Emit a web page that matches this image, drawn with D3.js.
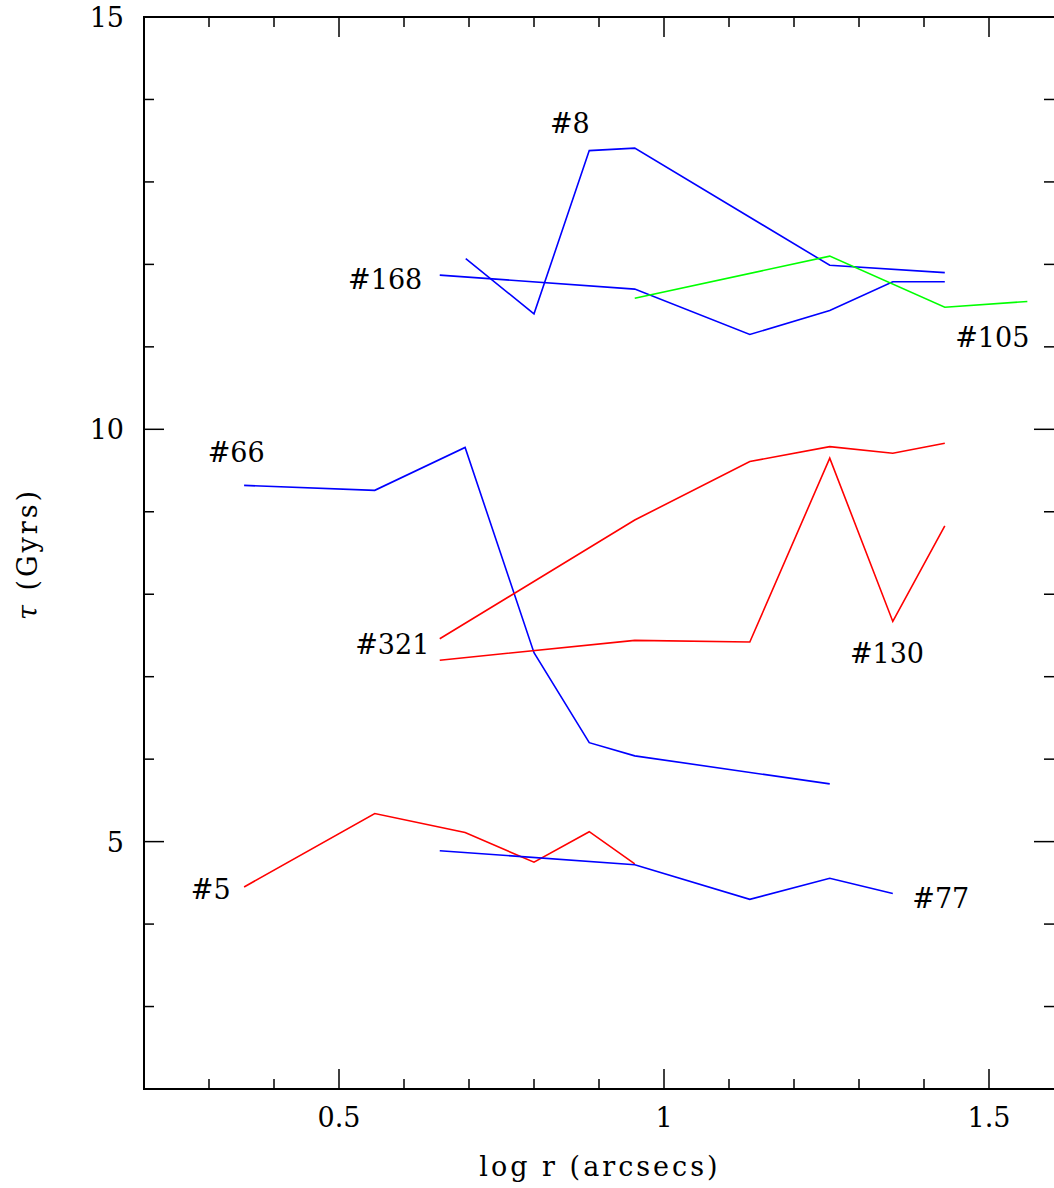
<!DOCTYPE html>
<html><head><meta charset="utf-8">
<script src="https://cdn.jsdelivr.net/npm/d3@7"></script>
<style>
html,body{margin:0;padding:0;background:#fff;}
svg text{font-family:"DejaVu Serif",serif;fill:#000;}
</style></head>
<body>
<svg id="c" width="1054" height="1188"></svg>
<script>
// ---- data ----
const r8    = [0.695, 0.80, 0.885, 0.955, 1.255, 1.432];
const tau8  = [12.07, 11.40, 13.38, 13.41, 11.99, 11.90];
const r168  = [0.655, 0.955, 1.132, 1.255, 1.352, 1.432];
const tau168= [11.87, 11.70, 11.15, 11.44, 11.79, 11.79];
const r105  = [0.955, 1.255, 1.432, 1.559];
const tau105= [11.59, 12.10, 11.48, 11.55];
const r66   = [0.354, 0.555, 0.694, 0.80, 0.885, 0.955, 1.255];
const tau66 = [9.32, 9.26, 9.78, 7.29, 6.20, 6.04, 5.70];
const r321  = [0.655, 0.955, 1.132, 1.255, 1.352, 1.432];
const tau321= [7.46, 8.90, 9.61, 9.79, 9.71, 9.83];
const r130  = [0.655, 0.955, 1.132, 1.255, 1.352, 1.432];
const tau130= [7.20, 7.44, 7.42, 9.65, 7.67, 8.83];
const r5    = [0.354, 0.555, 0.694, 0.80, 0.885, 0.955];
const tau5  = [4.45, 5.34, 5.11, 4.75, 5.12, 4.73];
const r77   = [0.655, 0.955, 1.132, 1.255, 1.352];
const tau77 = [4.89, 4.72, 4.30, 4.555, 4.37];

const seriesNames  = ["#8", "#168", "#105", "#66", "#321", "#130", "#5", "#77"];
const seriesX      = [r8, r168, r105, r66, r321, r130, r5, r77];
const seriesY      = [tau8, tau168, tau105, tau66, tau321, tau130, tau5, tau77];
const seriesColors = ["#0000ff", "#0000ff", "#00ff00", "#0000ff", "#ff0000", "#ff0000", "#ff0000", "#0000ff"];
// label anchor (left/baseline) in data units
const labelX = [0.8246, 0.514, 1.448, 0.298, 0.525, 1.286, 0.272, 1.382];
const labelY = [13.59, 11.70, 10.995, 9.60, 7.28, 7.17, 4.31, 4.20];

const xMajor = [0.5, 1, 1.5];
const xMajorLabels = ["0.5", "1", "1.5"];
const yMajor = [5, 10, 15];
const yMajorLabels = ["5", "10", "15"];

// ---- layout ----
const L = 144, R = 1054, T = 17, B = 1089;
const svg = d3.select("#c");
const x = d3.scaleLinear().domain([0.2, 1.6]).range([L, R]);
const y = d3.scaleLinear().domain([2, 15]).range([B, T]);

const xMinor = d3.range(3, 16).map(d => d / 10).filter(v => !xMajor.some(m => Math.abs(m - v) < 1e-9));
const yMinor = d3.range(3, 15).filter(v => !yMajor.includes(v));

// frame (right edge lies at the page border)
const ax = svg.append("g").attr("stroke", "#000").attr("fill", "none");
ax.append("path").attr("d", `M${R},${T}H${L}V${B}H${R}`).attr("stroke-width", 2);

const majL = 20, minL = 10;
// bottom & top ticks
xMajor.forEach(v => {
  ax.append("line").attr("x1", x(v)).attr("x2", x(v)).attr("y1", B).attr("y2", B - majL).attr("stroke-width", 1.5);
  ax.append("line").attr("x1", x(v)).attr("x2", x(v)).attr("y1", T).attr("y2", T + majL).attr("stroke-width", 1.5);
});
xMinor.forEach(v => {
  ax.append("line").attr("x1", x(v)).attr("x2", x(v)).attr("y1", B).attr("y2", B - minL).attr("stroke-width", 1.5);
  ax.append("line").attr("x1", x(v)).attr("x2", x(v)).attr("y1", T).attr("y2", T + minL).attr("stroke-width", 1.5);
});
// left & right ticks
yMajor.forEach(v => {
  ax.append("line").attr("y1", y(v)).attr("y2", y(v)).attr("x1", L).attr("x2", L + majL).attr("stroke-width", 1.5);
  ax.append("line").attr("y1", y(v)).attr("y2", y(v)).attr("x1", R).attr("x2", R - majL).attr("stroke-width", 1.5);
});
yMinor.forEach(v => {
  ax.append("line").attr("y1", y(v)).attr("y2", y(v)).attr("x1", L).attr("x2", L + minL).attr("stroke-width", 1.5);
  ax.append("line").attr("y1", y(v)).attr("y2", y(v)).attr("x1", R).attr("x2", R - minL).attr("stroke-width", 1.5);
});

// tick labels
const fs = 27;
xMajor.forEach((v, i) => {
  svg.append("text").attr("x", x(v)).attr("y", B + 38).attr("text-anchor", "middle")
    .attr("font-size", fs).text(xMajorLabels[i]);
});
yMajor.forEach((v, i) => {
  svg.append("text").attr("x", L - 20).attr("y", y(v) + 10).attr("text-anchor", "end")
    .attr("font-size", fs).text(yMajorLabels[i]);
});

// axis titles
svg.append("text").attr("x", (L + 1054) / 2 + 1).attr("y", 1176).attr("text-anchor", "middle")
  .attr("font-size", fs).attr("letter-spacing", 3).text("log r (arcsecs)");
const yt = svg.append("text").attr("transform", "translate(37,554) rotate(-90)")
  .attr("text-anchor", "middle").attr("font-size", fs).attr("letter-spacing", 3);
yt.append("tspan").attr("font-style", "italic").text("τ");
yt.append("tspan").text(" (Gyrs)");

// series lines
const line = d3.line().x(d => x(d[0])).y(d => y(d[1]));
seriesNames.forEach((name, i) => {
  const pts = seriesX[i].map((v, j) => [v, seriesY[i][j]]);
  svg.append("path").datum(pts).attr("d", line)
    .attr("fill", "none").attr("stroke", seriesColors[i]).attr("stroke-width", 1.6)
    .attr("stroke-linejoin", "miter");
  svg.append("text").attr("x", x(labelX[i])).attr("y", y(labelY[i]))
    .attr("font-size", fs).text(name);
});
</script>
</body></html>
